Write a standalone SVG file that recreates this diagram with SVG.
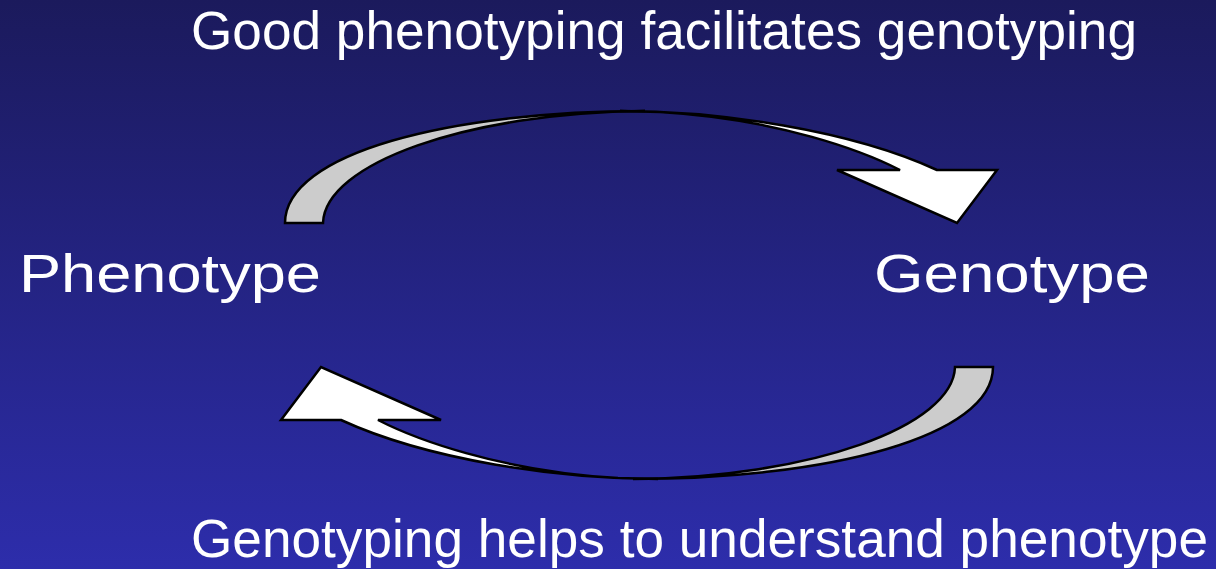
<svg xmlns="http://www.w3.org/2000/svg" width="1216" height="569" viewBox="0 0 1216 569">
<defs>
<linearGradient id="bg" x1="0" y1="0" x2="0" y2="1">
<stop offset="0" stop-color="#1b1a5c"/>
<stop offset="1" stop-color="#2d2dab"/>
</linearGradient>
<g id="curvedArrow">
<path class="back" d="M285,223 C285,153 450,111 645,111 C466,112.5 325,164 323,223 Z"/>
<path class="front" d="M620,111 C720,111 850,130 937,170 L997,170 L957,223 L837,170 L900,170 C865,152 780,119 660,112 Z"/>
</g>
<style>
.back{fill:#cccccc;stroke:#000;stroke-width:2.5;stroke-linejoin:miter}
.front{fill:#ffffff;stroke:#000;stroke-width:2.5;stroke-linejoin:miter}
.t{font-family:"Liberation Sans",Arial,sans-serif;fill:#ffffff;font-size:53px}
</style>
</defs>
<rect width="1216" height="569" fill="url(#bg)"/>
<g id="connectors">
<g id="arrow-phenotype-to-genotype"><use href="#curvedArrow"/></g>
<g id="arrow-genotype-to-phenotype"><use href="#curvedArrow" transform="rotate(180 639 295)"/></g>
</g>
<g id="label-top"><text class="t" x="191" y="49" textLength="946" lengthAdjust="spacingAndGlyphs">Good phenotyping facilitates genotyping</text></g>
<g id="node-phenotype"><text class="t" x="19" y="292" font-size="56" textLength="302" lengthAdjust="spacingAndGlyphs">Phenotype</text></g>
<g id="node-genotype"><text class="t" x="874" y="292" font-size="56" textLength="276" lengthAdjust="spacingAndGlyphs">Genotype</text></g>
<g id="label-bottom"><text class="t" x="191" y="557" textLength="1017" lengthAdjust="spacingAndGlyphs">Genotyping helps to understand phenotype</text></g>
</svg>
